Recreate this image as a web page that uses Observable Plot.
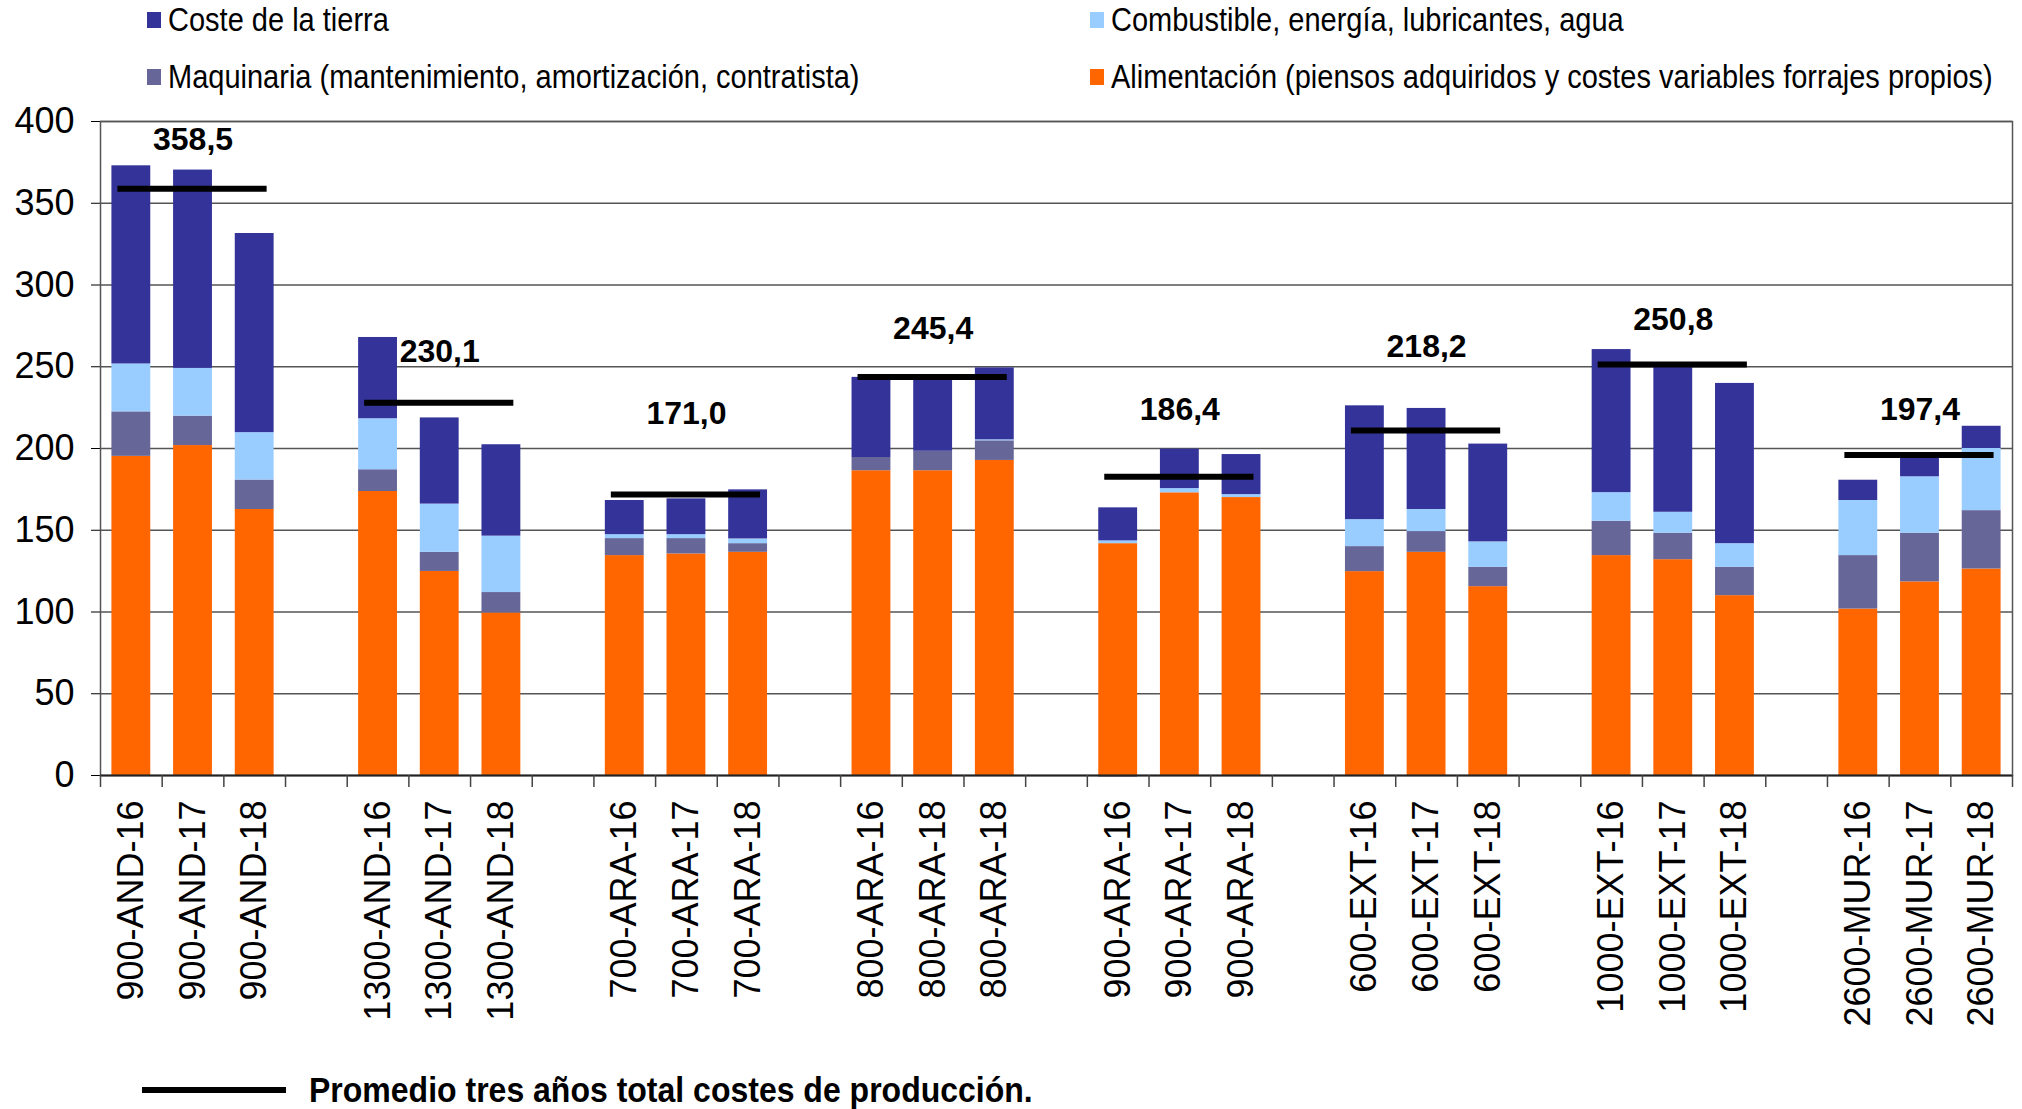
<!DOCTYPE html>
<html>
<head>
<meta charset="utf-8">
<script src="https://cdn.jsdelivr.net/npm/d3@7"></script>
<script src="https://cdn.jsdelivr.net/npm/@observablehq/plot@0.6"></script>
<style>
  body { margin: 0; background: #fff; font-family: "Liberation Sans", Arial, sans-serif; color: #000; }
  #page { position: relative; width: 2022px; height: 1109px; overflow: hidden; }
  #legend { position: relative; height: 100px; }
  .item { position: absolute; display: flex; align-items: center; height: 30px; font-size: 29px; white-space: nowrap; }
  .item .sw { width: 14px; height: 16px; margin-right: 7px; flex: none; }
  .item span.t { display: inline-block; transform: scaleY(1.15); }
  #chart { position: relative; height: 940px; }
  #foot { position: relative; height: 69px; }
  #foot .ln { position: absolute; left: 142px; top: 47px; width: 144px; height: 6px; background: #000; }
  #foot .tx { position: absolute; left: 309px; top: 32px; height: 36px; line-height: 36px; font-size: 32px; font-weight: bold; white-space: nowrap; transform: scaleY(1.1); }
</style>
</head>
<body>
<div id="page">
  <div id="legend"></div>
  <div id="chart"></div>
  <div id="foot"><div class="ln"></div><div class="tx">Promedio tres años total costes de producción.</div></div>
</div>
<script>
// ---- Data ----
const categorias = [
  "900-AND-16", "900-AND-17", "900-AND-18",
  "1300-AND-16", "1300-AND-17", "1300-AND-18",
  "700-ARA-16", "700-ARA-17", "700-ARA-18",
  "800-ARA-16", "800-ARA-18", "800-ARA-18",
  "900-ARA-16", "900-ARA-17", "900-ARA-18",
  "600-EXT-16", "600-EXT-17", "600-EXT-18",
  "1000-EXT-16", "1000-EXT-17", "1000-EXT-18",
  "2600-MUR-16", "2600-MUR-17", "2600-MUR-18"
];
const series = [
  "Alimentación (piensos adquiridos y costes variables forrajes propios)",
  "Maquinaria (mantenimiento, amortización, contratista)",
  "Combustible, energía, lubricantes, agua",
  "Coste de la tierra"
];
const alimentacion = [195.2, 201.8, 162.7, 173.7, 124.8, 99.4, 134.5, 135.5, 136.5, 186.4, 186.4, 192.7, 141.8, 172.9, 170.0, 124.7, 136.5, 115.5, 134.5, 132.0, 110.0, 101.8, 118.4, 126.3];
const maquinaria   = [27.2, 18.0, 18.0, 13.3, 11.7, 12.5, 10.4, 9.4, 5.3, 8.1, 11.9, 12.0, -1.0, 0, 0, 15.3, 12.7, 11.8, 21.0, 16.2, 17.3, 32.7, 29.8, 35.7];
const combustible  = [29.3, 29.2, 29.0, 31.2, 29.5, 34.5, 2.4, 2.4, 2.9, 0, 0, 0.6, 1.7, 2.6, 1.8, 16.5, 13.5, 15.6, 17.5, 12.8, 14.5, 33.7, 34.5, 38.0];
const tierra       = [121.2, 121.3, 121.8, 49.7, 52.7, 55.9, 20.9, 21.9, 30.0, 49.0, 44.0, 44.0, 20.2, 24.1, 24.5, 69.6, 61.8, 59.8, 87.5, 88.7, 98.0, 12.4, 14.3, 13.6];

// three-year averages (label text) and where the average lines / labels sit (in value units)
const promedioTexto = ["358,5", "230,1", "171,0", "245,4", "186,4", "218,2", "250,8", "197,4"];
const lineaPromedio = [358.8, 228.0, 171.8, 243.8, 182.7, 211.0, 251.4, 196.0];
const alturaRotulo  = [389, 259, 221, 273, 224, 262, 279, 224];

const yTicks = d3.range(0, 401, 50);
const colores = ["#FF6600", "#666699", "#99CCFF", "#333399"];

// ---- Legend (HTML, above the SVG) ----
const legendItems = [
  {serie: 3, left: 147, top: 5},
  {serie: 2, left: 1090, top: 5},
  {serie: 1, left: 147, top: 62},
  {serie: 0, left: 1090, top: 62}
];
const legend = document.getElementById("legend");
for (const it of legendItems) {
  const d = document.createElement("div");
  d.className = "item";
  d.style.left = it.left + "px";
  d.style.top = it.top + "px";
  const sw = document.createElement("div");
  sw.className = "sw";
  sw.style.background = colores[it.serie];
  const t = document.createElement("span");
  t.className = "t";
  t.textContent = series[it.serie];
  d.appendChild(sw); d.appendChild(t);
  legend.appendChild(d);
}

// ---- Build tables ----
const nGrupos = categorias.length / 3;
const dominio = [];
for (let g = 0; g < nGrupos; g++) {
  for (let k = 0; k < 3; k++) dominio.push("c" + (g * 3 + k));
  if (g < nGrupos - 1) dominio.push("hueco" + g);
}
const valores = [alimentacion, maquinaria, combustible, tierra];
const filas = [];
categorias.forEach((c, i) => {
  valores.forEach((arr, s) => filas.push({clave: "c" + i, serie: series[s], valor: arr[i]}));
});
const grupos = lineaPromedio.map((v, g) => ({
  a: "c" + (g * 3), m: "c" + (g * 3 + 1), b: "c" + (g * 3 + 2),
  linea: v, texto: promedioTexto[g], altura: alturaRotulo[g]
}));

// ---- Layout ----
const W = 2022, H = 940;
const mL = 100, mR = 10, mT = 21, mB = 265;
const plotH = H - mT - mB;
const paso = (W - mL - mR) / dominio.length;

const chart = Plot.plot({
  width: W, height: H,
  marginLeft: mL, marginRight: mR, marginTop: mT, marginBottom: mB,
  style: {fontFamily: "Liberation Sans, Arial, sans-serif", fontSize: "36px", color: "#000", background: "#fff"},
  x: {
    domain: dominio, paddingInner: 0.37, paddingOuter: 0.185, align: 0.5, round: false,
    tickSize: 0, tickPadding: 25, tickRotate: -90, label: null,
    tickFormat: d => d.startsWith("c") ? categorias[+d.slice(1)] : ""
  },
  y: {domain: [0, 400], ticks: yTicks, tickSize: 9, tickPadding: 17, label: null},
  color: {domain: series, range: colores},
  marks: [
    Plot.ruleY(yTicks.slice(1), {stroke: "#555", strokeWidth: 1.5}),
    Plot.barY(filas, {x: "clave", y: "valor", fill: "serie"}),
    Plot.frame({stroke: "#555", strokeWidth: 1.5}),
    Plot.ruleY([0], {stroke: "#222", strokeWidth: 2}),
    Plot.ruleX(dominio, {x: d => d, dx: -paso / 2, insetTop: plotH, insetBottom: -12, stroke: "#444", strokeWidth: 1.5}),
    Plot.ruleX(dominio.slice(-1), {x: d => d, dx: paso / 2, insetTop: plotH, insetBottom: -12, stroke: "#444", strokeWidth: 1.5}),
    Plot.ruleY(grupos, {x1: "a", x2: "b", y: "linea", stroke: "#000", strokeWidth: 6, insetLeft: 6, insetRight: 7}),
    Plot.text(grupos, {x: "m", y: "altura", text: "texto", fontWeight: "bold", fontSize: 32, fill: "#000"})
  ]
});
document.getElementById("chart").appendChild(chart);
</script>
</body>
</html>
